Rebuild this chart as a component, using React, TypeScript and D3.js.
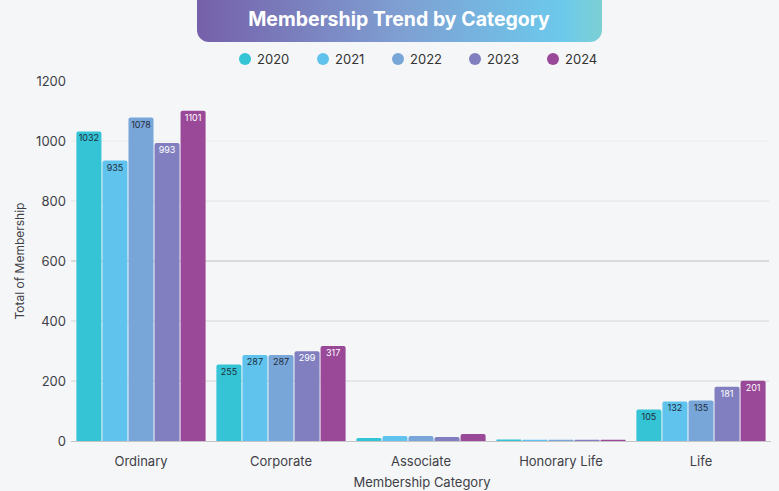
import { useEffect, useRef } from "react";
import * as d3 from "d3";

const categories = ["Ordinary", "Corporate", "Associate", "Honorary Life", "Life"];
const years = ["2020", "2021", "2022", "2023", "2024"];
const values2020 = [1032, 255, 10, 5, 105];
const values2021 = [935, 287, 17, 4, 132];
const values2022 = [1078, 287, 17, 4, 135];
const values2023 = [993, 299, 13, 4, 181];
const values2024 = [1101, 317, 23, 4, 201];
const yearColors = ["#35c4d6", "#60c3ee", "#79a6d9", "#817fc0", "#9a4898"];
const labelColors = ["#1f2d3a", "#1f2d3a", "#1f2d3a", "#ffffff", "#ffffff"];
const yTicks = [0, 200, 400, 600, 800, 1000, 1200];

export default function App() {
    const ref = useRef<SVGSVGElement>(null);

    useEffect(() => {
        const width = 779;
        const height = 491;
        const font = "Inter, 'Noto Sans', sans-serif";

        document.body.style.margin = "0";

        const svg = d3.select(ref.current)
            .attr("width", width)
            .attr("height", height)
            .style("display", "block")
            .style("font-family", font);

        svg.selectAll("*").remove();

        svg.append("rect")
            .attr("width", width)
            .attr("height", height)
            .attr("fill", "#f5f6f8");

        const series = [values2020, values2021, values2022, values2023, values2024];

        // Scales
        const x0 = d3.scaleBand()
            .domain(categories)
            .range([71, 771])
            .paddingInner(0.07)
            .paddingOuter(0.035);

        const x1 = d3.scaleBand()
            .domain(years)
            .range([0, x0.bandwidth()]);

        const y = d3.scaleLinear()
            .domain([0, 1200])
            .range([441, 81]);

        // Grid
        const gridColor = (t: number) => t === 600 ? "#d0d0d0" : t >= 1000 ? "#ececec" : t === 800 ? "#e2e2e2" : "#d6d6d6";
        svg.append("g")
            .selectAll("line")
            .data(yTicks.filter(t => t > 0 && t < 1200))
            .join("line")
            .attr("x1", 71)
            .attr("x2", 769)
            .attr("y1", d => y(d))
            .attr("y2", d => y(d))
            .attr("stroke", d => gridColor(d))
            .attr("stroke-width", d => d === 600 ? 1.5 : 1);

        // Baseline
        svg.append("line")
            .attr("x1", 71)
            .attr("x2", 771)
            .attr("y1", y(0) + 0.5)
            .attr("y2", y(0) + 0.5)
            .attr("stroke", "#c4c4c4");

        // Y tick labels
        svg.append("g")
            .selectAll("text")
            .data(yTicks)
            .join("text")
            .attr("x", 66)
            .attr("y", d => y(d))
            .attr("dy", "0.35em")
            .attr("text-anchor", "end")
            .attr("font-size", 13)
            .attr("fill", "#3f3f46")
            .text(d => d);

        // Bars
        const rounded = (x: number, yTop: number, w: number, h: number) => {
            const r = Math.min(2, h / 2);
            return `M${x},${yTop + h}V${yTop + r}Q${x},${yTop} ${x + r},${yTop}H${x + w - r}Q${x + w},${yTop} ${x + w},${yTop + r}V${yTop + h}Z`;
        };

        categories.forEach((cat, ci) => {
            const g = svg.append("g").attr("transform", `translate(${x0(cat)},0)`);
            years.forEach((yr, yi) => {
                const v = series[yi][ci];
                const bx = (x1(yr) as number) + 0.5;
                const bw = x1.bandwidth() - 1;
                const top = y(v);
                g.append("path")
                    .attr("d", rounded(bx, top, bw, y(0) - top))
                    .attr("fill", yearColors[yi]);
                if (v >= 50) {
                    g.append("text")
                        .attr("x", bx + bw / 2)
                        .attr("y", top + 10)
                        .attr("text-anchor", "middle")
                        .attr("font-size", 9)
                        .attr("fill", labelColors[yi])
                        .text(v);
                }
            });
        });

        // X tick labels
        svg.append("g")
            .selectAll("text")
            .data(categories)
            .join("text")
            .attr("x", d => (x0(d) as number) + x0.bandwidth() / 2)
            .attr("y", 466)
            .attr("text-anchor", "middle")
            .attr("font-size", 13)
            .attr("fill", "#3f3f46")
            .text(d => d);

        // Axis titles
        svg.append("text")
            .attr("x", 422)
            .attr("y", 487)
            .attr("text-anchor", "middle")
            .attr("font-size", 13)
            .attr("fill", "#3f3f46")
            .text("Membership Category");

        svg.append("text")
            .attr("transform", "translate(24,261) rotate(-90)")
            .attr("text-anchor", "middle")
            .attr("font-size", 12)
            .attr("fill", "#3f3f46")
            .text("Total of Membership");

        // Title
        const defs = svg.append("defs");
        const grad = defs.append("linearGradient")
            .attr("id", "titleGrad")
            .attr("x1", "0%").attr("x2", "100%");
        grad.append("stop").attr("offset", "0%").attr("stop-color", "#7560aa");
        grad.append("stop").attr("offset", "50%").attr("stop-color", "#7f9fd2");
        grad.append("stop").attr("offset", "90%").attr("stop-color", "#6cc9ec");
        grad.append("stop").attr("offset", "100%").attr("stop-color", "#7cd0d4");

        svg.append("rect")
            .attr("x", 197)
            .attr("y", -12)
            .attr("width", 405)
            .attr("height", 54)
            .attr("rx", 12)
            .attr("fill", "url(#titleGrad)");

        svg.append("text")
            .attr("x", 399)
            .attr("y", 19)
            .attr("dy", "0.35em")
            .attr("text-anchor", "middle")
            .attr("font-size", 19.5)
            .attr("font-weight", 700)
            .attr("fill", "#ffffff")
            .text("Membership Trend by Category");

        // Legend
        const legendX = [245, 323, 398, 475, 553];
        const legend = svg.append("g")
            .selectAll("g")
            .data(years)
            .join("g")
            .attr("transform", (d, i) => `translate(${legendX[i]},59)`);
        legend.append("circle")
            .attr("r", 6)
            .attr("fill", (d, i) => yearColors[i]);
        legend.append("text")
            .attr("x", 12)
            .attr("dy", "0.35em")
            .attr("font-size", 13)
            .attr("fill", "#333")
            .text(d => d);
    }, []);

    return <svg ref={ref}></svg>;
}
